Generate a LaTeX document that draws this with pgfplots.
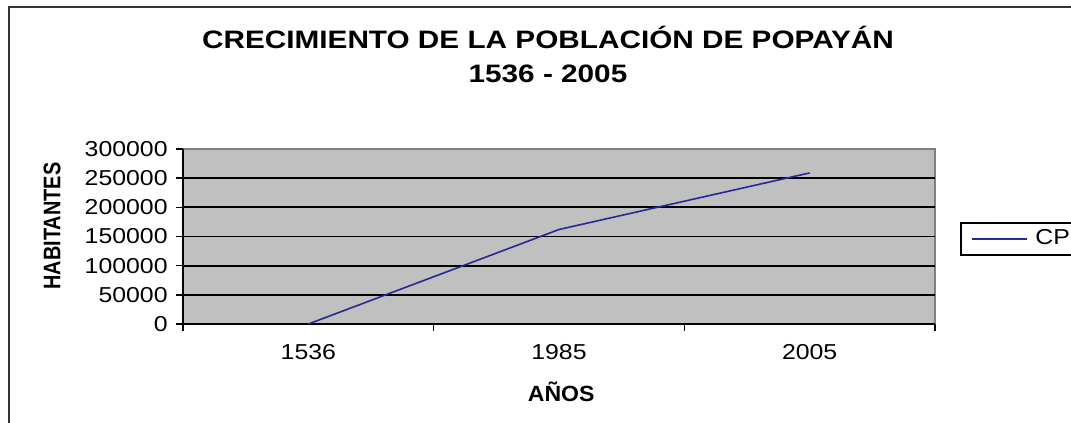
\documentclass[border=0pt]{standalone}
\usepackage{fontspec}
\setmainfont[FakeStretch=1.18]{Liberation Sans}
\newfontfamily\tfont[FakeStretch=1.15]{Liberation Sans}
\newfontfamily\lfont[FakeStretch=1.05]{Liberation Sans}
\newfontfamily\vfont[FakeStretch=0.83]{Liberation Sans}
\usepackage{pgfplots}
\pgfplotsset{compat=1.18}
\definecolor{plotgray}{RGB}{192,192,192}
\definecolor{serie}{RGB}{40,40,150}
\begin{document}
\begin{tikzpicture}[x=0.5pt,y=-0.5pt]
\useasboundingbox (0,0) rectangle (1071,423);
\draw[line width=0.8pt,black!80] (9,430) -- (9,7) -- (1080,7);
\node[align=center,font=\bfseries\fontsize{12.6}{17}\selectfont] at (548,54) {CRECIMIENTO DE LA POBLACIÓN DE POPAYÁN\\1536 - 2005};
\begin{axis}[
  at={(91.5pt,-162pt)}, anchor=south west,
  scale only axis, width=376pt, height=87.5pt,
  xmin=-0.5, xmax=2.5, ymin=0, ymax=300000,
  axis lines=left, axis line style={-,black,line width=0.8pt},
  axis background/.style={fill=plotgray,draw=black!50,line width=0.8pt},
  xtick={-0.5,0.5,1.5,2.5}, xticklabels={},
  extra x ticks={0,1,2}, extra x tick labels={1536,1985,2005},
  extra x tick style={major tick length=0pt},
  ytick={0,50000,100000,150000,200000,250000,300000},
  yticklabels={0,50000,100000,150000,200000,250000,300000},
  scaled y ticks=false,
  extra y ticks={50000,100000,150000,200000,250000},
  extra y tick labels={},
  extra y tick style={grid=major, major tick length=0pt},
  grid style={black,line width=0.85pt},
  tick align=outside, major tick length=3.5pt,
  tick style={black,line width=0.8pt},
  tick label style={font=\tfont\fontsize{10.8}{12}\selectfont},
  xticklabel style={inner sep=0pt, yshift=-10.2pt},
  yticklabel style={inner sep=0pt, xshift=-4pt},
  xlabel={AÑOS},
  xlabel style={font=\lfont\bfseries\fontsize{11}{13}\selectfont, at={(axis description cs:0.503,-0.389)}, anchor=center},
  ylabel={HABITANTES},
  ylabel style={font=\vfont\bfseries\fontsize{12}{14}\selectfont, at={(axis description cs:-0.174,0.56)}, anchor=center},
  legend style={at={(axis description cs:1.0332,0.583)}, anchor=north west,
    draw=black, line width=0.8pt, inner xsep=5pt, inner ysep=3.5pt,
    font=\tfont\fontsize{10.8}{12}\selectfont,
    nodes={inner sep=0pt}, column sep=4pt},
  legend image code/.code={\draw[#1] (0pt,0pt) -- (27.5pt,0pt);},
]
\addplot[serie, line width=0.8pt] coordinates {(0,0) (1,162000) (2,259000)};
\addlegendentry{CP}
\end{axis}
\end{tikzpicture}
\end{document}
